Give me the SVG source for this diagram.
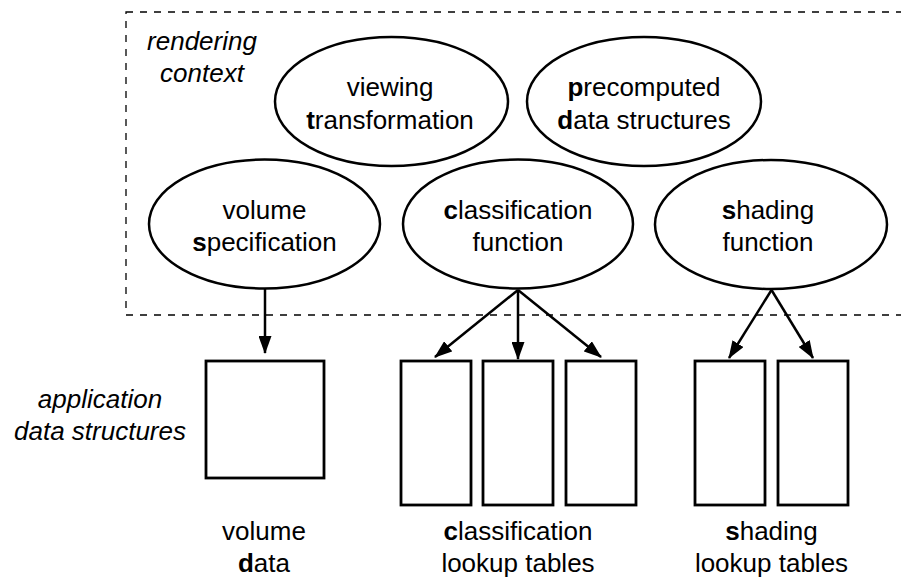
<svg xmlns="http://www.w3.org/2000/svg" width="901" height="577" viewBox="0 0 901 577">
<style>
text{font-family:"Liberation Sans",Arial,Helvetica,sans-serif;font-size:26px;fill:#000;text-anchor:middle}
.it{font-style:italic}
.b{font-weight:bold}
ellipse{fill:#fff;stroke:#000;stroke-width:2.5}
rect.box{fill:#fff;stroke:#000;stroke-width:2.8}
.conn line{stroke:#000;stroke-width:2.5;marker-end:url(#arr)}
</style>
<defs>
<marker id="arr" markerUnits="userSpaceOnUse" markerWidth="18" markerHeight="13" refX="17" refY="6.5" orient="auto" viewBox="0 0 18 13">
<path d="M0,0 L18,6.5 L0,13 z" fill="#000"/>
</marker>
</defs>
<rect width="901" height="577" fill="#fff"/>
<g id="rendering-context">
<rect x="126" y="12" width="790" height="303" fill="none" stroke="#000" stroke-width="1.3" stroke-dasharray="7,7"/>
<text class="it" x="202" y="50">rendering</text>
<text class="it" x="202" y="82">context</text>
</g>
<g id="viewing">
<ellipse cx="391.5" cy="101.5" rx="116.5" ry="64.5"/>
<text x="390" y="96">viewing</text>
<text x="390" y="129"><tspan class="b">t</tspan>ransformation</text>
</g>
<g id="precomputed">
<ellipse cx="644" cy="101.5" rx="117" ry="64.5"/>
<text x="644" y="96"><tspan class="b">p</tspan>recomputed</text>
<text x="644" y="129"><tspan class="b">d</tspan>ata structures</text>
</g>
<g id="volume-spec">
<ellipse cx="264.5" cy="224" rx="115.5" ry="64.5"/>
<text x="264.5" y="219">volume</text>
<text x="264.5" y="251"><tspan class="b">s</tspan>pecification</text>
</g>
<g id="classification">
<ellipse cx="518" cy="224" rx="115" ry="64.5"/>
<text x="518" y="219"><tspan class="b">c</tspan>lassification</text>
<text x="518" y="251">function</text>
</g>
<g id="shading">
<ellipse cx="771" cy="224.5" rx="116" ry="64.5"/>
<text x="768" y="219"><tspan class="b">s</tspan>hading</text>
<text x="768" y="251">function</text>
</g>
<g id="application-label">
<text class="it" x="100" y="408">application</text>
<text class="it" x="100" y="440">data structures</text>
</g>
<g id="volume-data">
<rect class="box" x="206" y="361" width="118" height="117"/>
<text x="264" y="540">volume</text>
<text x="264" y="572"><tspan class="b">d</tspan>ata</text>
</g>
<g id="classification-tables">
<rect class="box" x="401" y="361" width="70" height="144"/>
<rect class="box" x="483" y="361" width="70" height="144"/>
<rect class="box" x="566" y="361" width="70" height="144"/>
<text x="518" y="540"><tspan class="b">c</tspan>lassification</text>
<text x="518" y="572">lookup tables</text>
</g>
<g id="shading-tables">
<rect class="box" x="695" y="361" width="70" height="144"/>
<rect class="box" x="778" y="361" width="70" height="144"/>
<text x="771.5" y="540"><tspan class="b">s</tspan>hading</text>
<text x="771.5" y="572">lookup tables</text>
</g>
<g id="connectors" class="conn">
<line x1="265" y1="289" x2="265" y2="353"/>
<line x1="518" y1="290" x2="435" y2="357"/>
<line x1="518" y1="290" x2="518" y2="359"/>
<line x1="518" y1="290" x2="601" y2="357"/>
<line x1="771.5" y1="290" x2="729" y2="358"/>
<line x1="771.5" y1="290" x2="813" y2="358"/>
</g>
</svg>
